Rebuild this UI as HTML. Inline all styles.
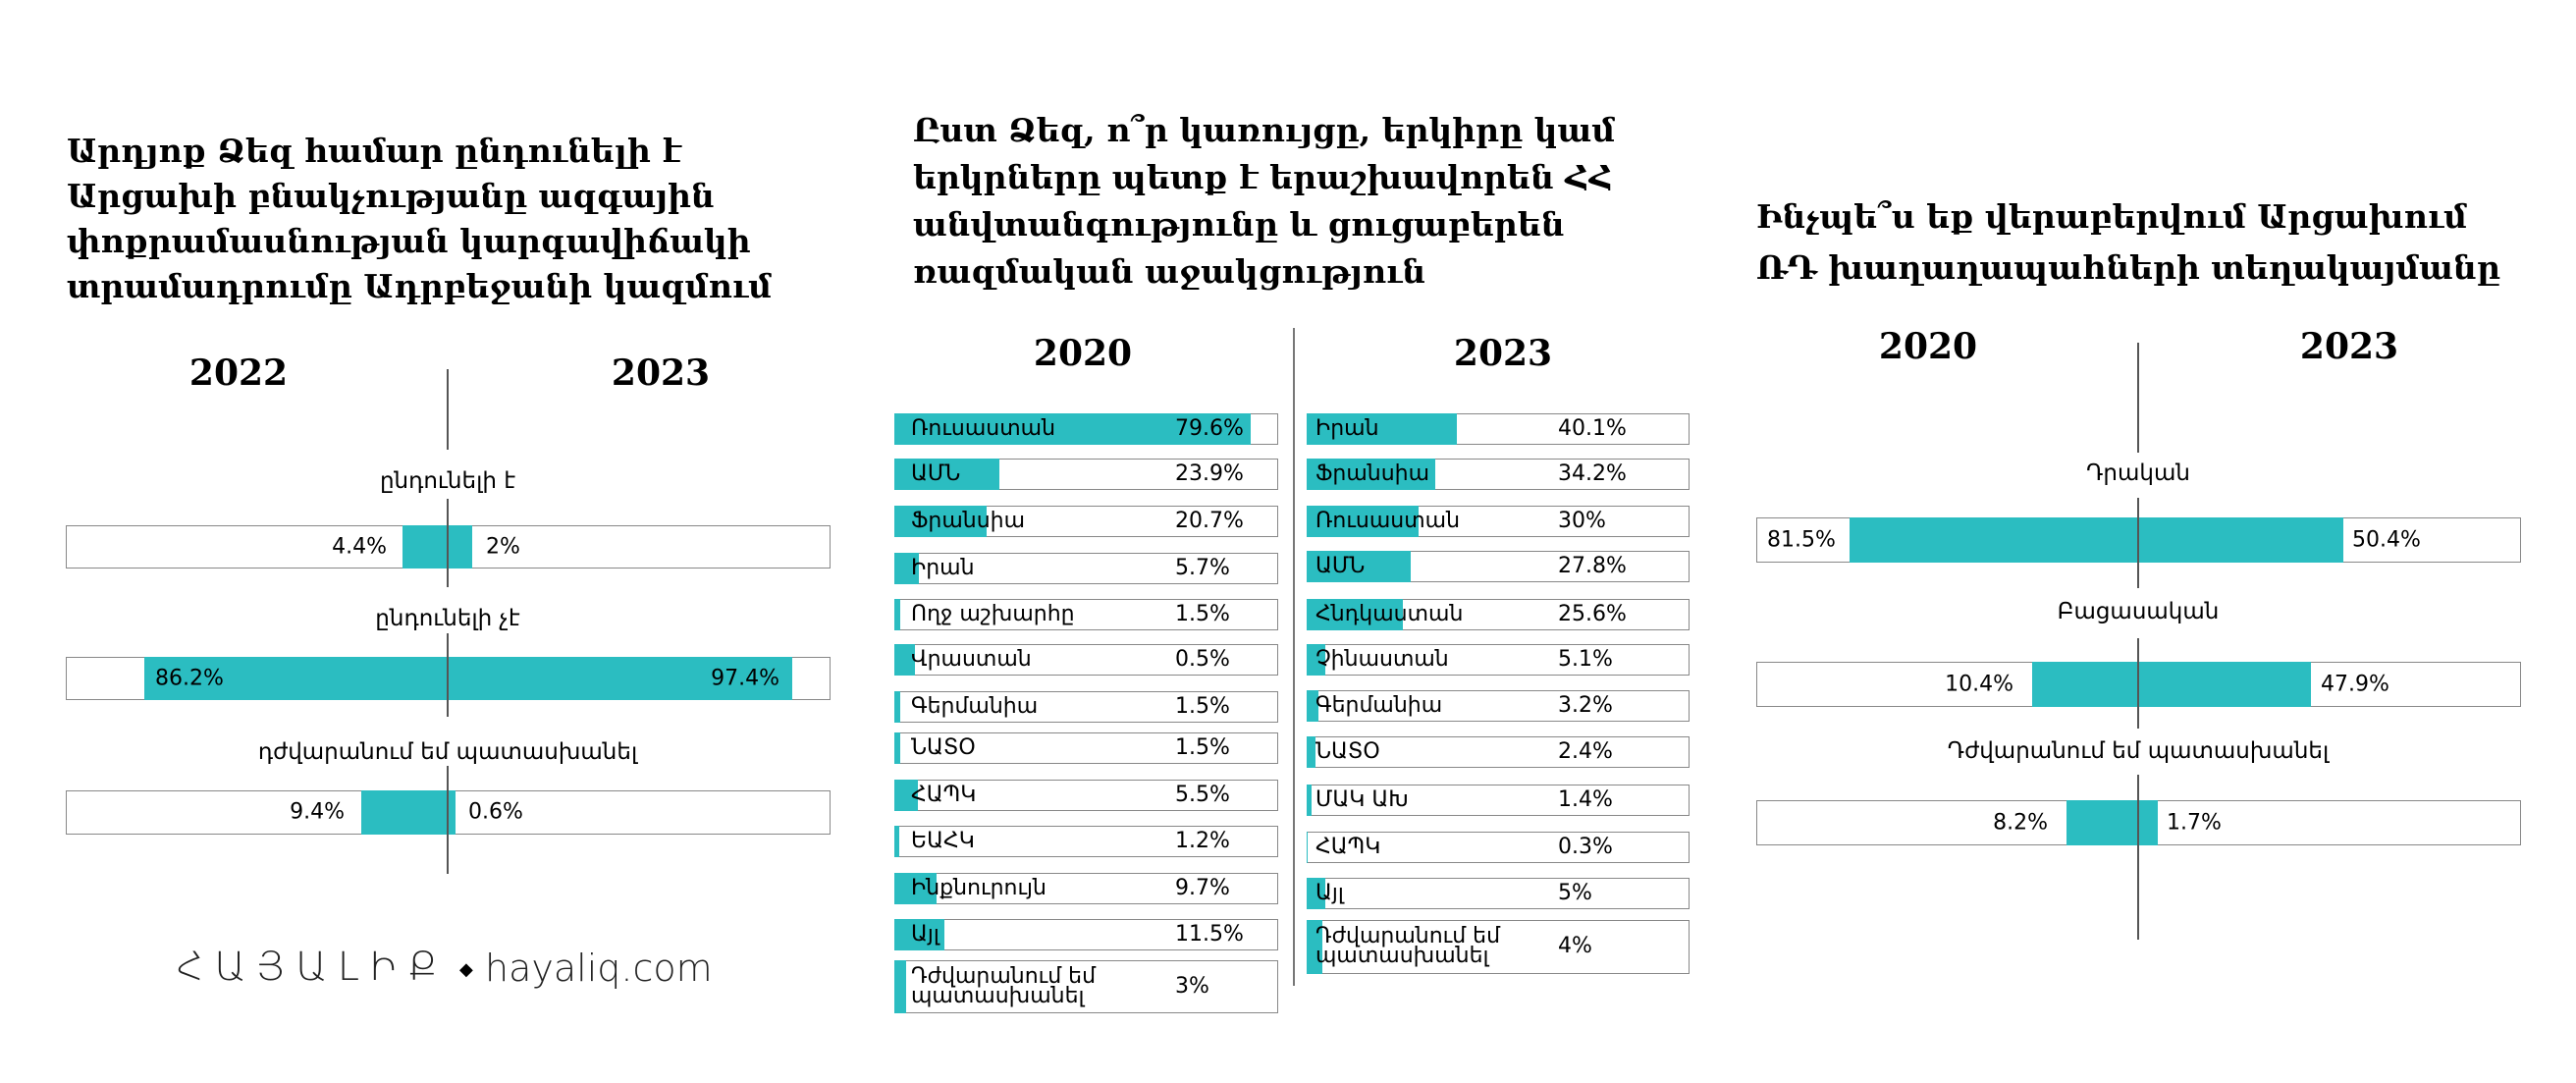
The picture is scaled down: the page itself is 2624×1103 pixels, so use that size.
<!DOCTYPE html>
<html><head><meta charset="utf-8"><style>
body{margin:0;width:2624px;height:1103px;background:#fff;position:relative;overflow:hidden;font-family:"DejaVu Sans",sans-serif;color:#000}
.a{position:absolute;white-space:nowrap}
.t{font-family:"DejaVu Serif",serif;font-weight:bold;font-size:33px;line-height:46px}
.y{font-family:"DejaVu Serif",serif;font-weight:bold;font-size:36px;transform:translate(-50%,-50%)}
.box{position:absolute;border:1.5px solid #888;box-sizing:border-box;background:#fff}
.f{position:absolute;background:#2bbdc1}
.v{position:absolute;font-size:22px;transform:translateY(-50%);white-space:nowrap}
.lbl{position:absolute;font-size:23px;transform:translate(-50%,-50%);white-space:nowrap}
.vl{position:absolute;width:1.5px;background:#555}
.r{position:absolute;font-size:22px;white-space:nowrap;line-height:20px}
</style></head><body>

<!-- Panel 1 -->
<div class="a t" style="left:68px;top:131px">Արդյոք Ձեզ համար ընդունելի է<br>Արցախի բնակչությանը ազգային<br>փոքրամասնության կարգավիճակի<br>տրամադրումը Ադրբեջանի կազմում</div>
<div class="a y" style="left:243px;top:380px">2022</div>
<div class="a y" style="left:673px;top:380px">2023</div>
<div class="lbl" style="left:456px;top:490px">ընդունելի է</div>
<div class="box" style="left:67px;top:535px;width:779px;height:44px"></div>
<div class="f" style="left:410px;top:535px;width:71px;height:44px"></div>
<div class="v" style="right:2230px;top:557px">4.4%</div>
<div class="v" style="left:495px;top:557px">2%</div>
<div class="lbl" style="left:456px;top:630px">ընդունելի չէ</div>
<div class="box" style="left:67px;top:669px;width:779px;height:44px"></div>
<div class="f" style="left:147px;top:669px;width:660px;height:44px"></div>
<div class="v" style="left:158px;top:691px">86.2%</div>
<div class="v" style="right:1830px;top:691px">97.4%</div>
<div class="lbl" style="left:456px;top:766px">դժվարանում եմ պատասխանել</div>
<div class="box" style="left:67px;top:805px;width:779px;height:45px"></div>
<div class="f" style="left:368px;top:805px;width:96px;height:45px"></div>
<div class="v" style="right:2273px;top:827px">9.4%</div>
<div class="v" style="left:477px;top:827px">0.6%</div>
<div class="vl" style="left:455px;top:376px;height:82px"></div>
<div class="vl" style="left:455px;top:508px;height:90px"></div>
<div class="vl" style="left:455px;top:645px;height:85px"></div>
<div class="vl" style="left:455px;top:780px;height:110px"></div>
<div class="a" style="left:180px;top:962px;font-size:40px;font-weight:200;letter-spacing:11px;color:#222">ՀԱՅԱԼԻՔ</div>
<div class="a" style="left:468px;top:977px;font-size:18px">◆</div>
<div class="a" style="left:494px;top:964px;font-size:38px;color:#222;font-weight:300">hayaliq.com</div>

<!-- Panel 2 -->
<div class="a t" style="left:930px;top:109px;line-height:48px">Ըստ Ձեզ, ո՞ր կառույցը, երկիրը կամ<br>երկրները պետք է երաշխավորեն ՀՀ<br>անվտանգությունը և ցուցաբերեն<br>ռազմական աջակցություն</div>
<div class="a y" style="left:1103px;top:360px">2020</div>
<div class="a y" style="left:1531px;top:360px">2023</div>
<div class="vl" style="left:1317px;top:334px;height:670px;background:#777"></div>

<div class="box" style="left:911px;top:421px;width:391px;height:32px"></div><div class="f" style="left:911px;top:421px;width:363px;height:32px"></div><div class="r" style="left:928px;top:427px">Ռուսաստան</div><div class="r" style="left:1197px;top:427px">79.6%</div>
<div class="box" style="left:911px;top:467px;width:391px;height:32px"></div><div class="f" style="left:911px;top:467px;width:107px;height:32px"></div><div class="r" style="left:928px;top:473px">ԱՄՆ</div><div class="r" style="left:1197px;top:473px">23.9%</div>
<div class="box" style="left:911px;top:515px;width:391px;height:32px"></div><div class="f" style="left:911px;top:515px;width:94px;height:32px"></div><div class="r" style="left:928px;top:521px">Ֆրանսիա</div><div class="r" style="left:1197px;top:521px">20.7%</div>
<div class="box" style="left:911px;top:563px;width:391px;height:32px"></div><div class="f" style="left:911px;top:563px;width:25px;height:32px"></div><div class="r" style="left:928px;top:569px">Իրան</div><div class="r" style="left:1197px;top:569px">5.7%</div>
<div class="box" style="left:911px;top:610px;width:391px;height:32px"></div><div class="f" style="left:911px;top:610px;width:6px;height:32px"></div><div class="r" style="left:928px;top:616px">Ողջ աշխարհը</div><div class="r" style="left:1197px;top:616px">1.5%</div>
<div class="box" style="left:911px;top:656px;width:391px;height:32px"></div><div class="f" style="left:911px;top:656px;width:21px;height:32px"></div><div class="r" style="left:928px;top:662px">Վրաստան</div><div class="r" style="left:1197px;top:662px">0.5%</div>
<div class="box" style="left:911px;top:704px;width:391px;height:32px"></div><div class="f" style="left:911px;top:704px;width:6px;height:32px"></div><div class="r" style="left:928px;top:710px">Գերմանիա</div><div class="r" style="left:1197px;top:710px">1.5%</div>
<div class="box" style="left:911px;top:746px;width:391px;height:32px"></div><div class="f" style="left:911px;top:746px;width:6px;height:32px"></div><div class="r" style="left:928px;top:752px">ՆԱՏՕ</div><div class="r" style="left:1197px;top:752px">1.5%</div>
<div class="box" style="left:911px;top:794px;width:391px;height:32px"></div><div class="f" style="left:911px;top:794px;width:24px;height:32px"></div><div class="r" style="left:928px;top:800px">ՀԱՊԿ</div><div class="r" style="left:1197px;top:800px">5.5%</div>
<div class="box" style="left:911px;top:841px;width:391px;height:32px"></div><div class="f" style="left:911px;top:841px;width:5px;height:32px"></div><div class="r" style="left:928px;top:847px">ԵԱՀԿ</div><div class="r" style="left:1197px;top:847px">1.2%</div>
<div class="box" style="left:911px;top:889px;width:391px;height:32px"></div><div class="f" style="left:911px;top:889px;width:43px;height:32px"></div><div class="r" style="left:928px;top:895px">Ինքնուրույն</div><div class="r" style="left:1197px;top:895px">9.7%</div>
<div class="box" style="left:911px;top:936px;width:391px;height:32px"></div><div class="f" style="left:911px;top:936px;width:51px;height:32px"></div><div class="r" style="left:928px;top:942px">Այլ</div><div class="r" style="left:1197px;top:942px">11.5%</div>
<div class="box" style="left:911px;top:978px;width:391px;height:54px"></div><div class="f" style="left:911px;top:978px;width:12px;height:54px"></div><div class="r" style="left:928px;top:985px">Դժվարանում եմ<br>պատասխանել</div><div class="r" style="left:1197px;top:995px">3%</div>

<div class="box" style="left:1331px;top:421px;width:390px;height:32px"></div><div class="f" style="left:1331px;top:421px;width:153px;height:32px"></div><div class="r" style="left:1340px;top:427px">Իրան</div><div class="r" style="left:1587px;top:427px">40.1%</div>
<div class="box" style="left:1331px;top:467px;width:390px;height:32px"></div><div class="f" style="left:1331px;top:467px;width:131px;height:32px"></div><div class="r" style="left:1340px;top:473px">Ֆրանսիա</div><div class="r" style="left:1587px;top:473px">34.2%</div>
<div class="box" style="left:1331px;top:515px;width:390px;height:32px"></div><div class="f" style="left:1331px;top:515px;width:114px;height:32px"></div><div class="r" style="left:1340px;top:521px">Ռուսաստան</div><div class="r" style="left:1587px;top:521px">30%</div>
<div class="box" style="left:1331px;top:561px;width:390px;height:32px"></div><div class="f" style="left:1331px;top:561px;width:106px;height:32px"></div><div class="r" style="left:1340px;top:567px">ԱՄՆ</div><div class="r" style="left:1587px;top:567px">27.8%</div>
<div class="box" style="left:1331px;top:610px;width:390px;height:32px"></div><div class="f" style="left:1331px;top:610px;width:98px;height:32px"></div><div class="r" style="left:1340px;top:616px">Հնդկաստան</div><div class="r" style="left:1587px;top:616px">25.6%</div>
<div class="box" style="left:1331px;top:656px;width:390px;height:32px"></div><div class="f" style="left:1331px;top:656px;width:19px;height:32px"></div><div class="r" style="left:1340px;top:662px">Չինաստան</div><div class="r" style="left:1587px;top:662px">5.1%</div>
<div class="box" style="left:1331px;top:703px;width:390px;height:32px"></div><div class="f" style="left:1331px;top:703px;width:12px;height:32px"></div><div class="r" style="left:1340px;top:709px">Գերմանիա</div><div class="r" style="left:1587px;top:709px">3.2%</div>
<div class="box" style="left:1331px;top:750px;width:390px;height:32px"></div><div class="f" style="left:1331px;top:750px;width:9px;height:32px"></div><div class="r" style="left:1340px;top:756px">ՆԱՏՕ</div><div class="r" style="left:1587px;top:756px">2.4%</div>
<div class="box" style="left:1331px;top:799px;width:390px;height:32px"></div><div class="f" style="left:1331px;top:799px;width:5px;height:32px"></div><div class="r" style="left:1340px;top:805px">ՄԱԿ ԱԽ</div><div class="r" style="left:1587px;top:805px">1.4%</div>
<div class="box" style="left:1331px;top:847px;width:390px;height:32px"></div><div class="f" style="left:1331px;top:847px;width:1px;height:32px"></div><div class="r" style="left:1340px;top:853px">ՀԱՊԿ</div><div class="r" style="left:1587px;top:853px">0.3%</div>
<div class="box" style="left:1331px;top:894px;width:390px;height:32px"></div><div class="f" style="left:1331px;top:894px;width:19px;height:32px"></div><div class="r" style="left:1340px;top:900px">Այլ</div><div class="r" style="left:1587px;top:900px">5%</div>
<div class="box" style="left:1331px;top:937px;width:390px;height:55px"></div><div class="f" style="left:1331px;top:937px;width:16px;height:55px"></div><div class="r" style="left:1340px;top:944px">Դժվարանում եմ<br>պատասխանել</div><div class="r" style="left:1587px;top:954px">4%</div>

<!-- Panel 3 -->
<div class="a t" style="left:1789px;top:195px;line-height:52px">Ինչպե՞ս եք վերաբերվում Արցախում<br>ՌԴ խաղաղապահների տեղակայմանը</div>
<div class="a y" style="left:1964px;top:353px">2020</div>
<div class="a y" style="left:2393px;top:353px">2023</div>
<div class="lbl" style="left:2178px;top:482px">Դրական</div>
<div class="box" style="left:1789px;top:527px;width:779px;height:46px"></div>
<div class="f" style="left:1884px;top:527px;width:503px;height:46px"></div>
<div class="v" style="left:1800px;top:550px">81.5%</div>
<div class="v" style="left:2396px;top:550px">50.4%</div>
<div class="lbl" style="left:2178px;top:623px">Բացասական</div>
<div class="box" style="left:1789px;top:674px;width:779px;height:46px"></div>
<div class="f" style="left:2070px;top:674px;width:284px;height:46px"></div>
<div class="v" style="right:573px;top:697px">10.4%</div>
<div class="v" style="left:2364px;top:697px">47.9%</div>
<div class="lbl" style="left:2178px;top:765px">Դժվարանում եմ պատասխանել</div>
<div class="box" style="left:1789px;top:815px;width:779px;height:46px"></div>
<div class="f" style="left:2105px;top:815px;width:93px;height:46px"></div>
<div class="v" style="right:538px;top:838px">8.2%</div>
<div class="v" style="left:2207px;top:838px">1.7%</div>
<div class="vl" style="left:2177px;top:349px;height:112px"></div>
<div class="vl" style="left:2177px;top:507px;height:92px"></div>
<div class="vl" style="left:2177px;top:650px;height:92px"></div>
<div class="vl" style="left:2177px;top:789px;height:168px"></div>
</body></html>
